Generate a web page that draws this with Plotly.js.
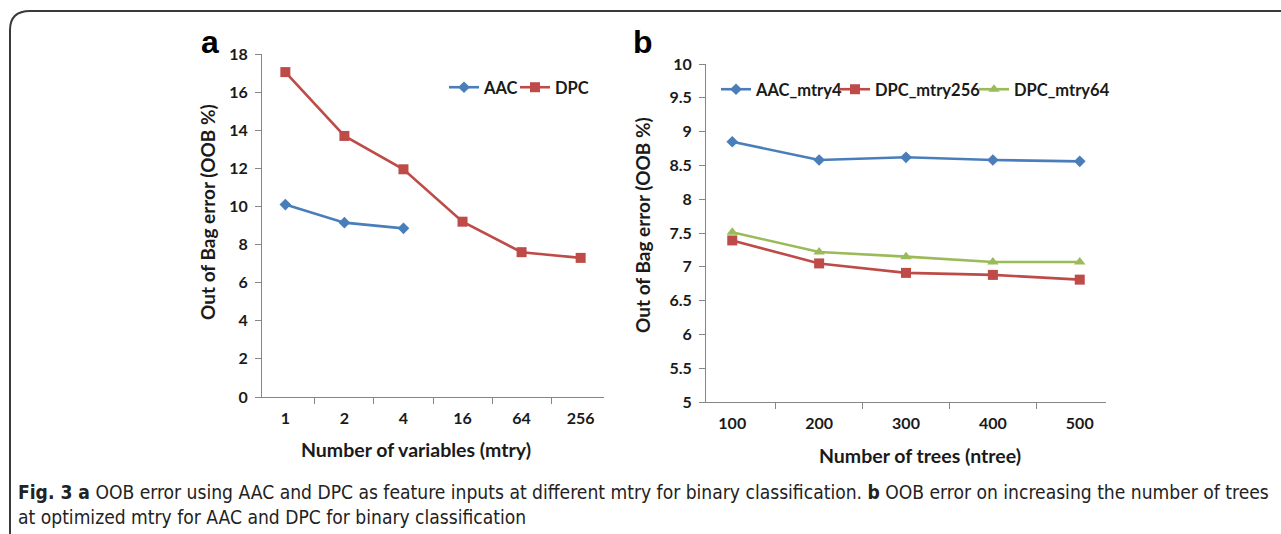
<!DOCTYPE html>
<html>
<head>
<meta charset="utf-8">
<script src="https://cdn.plot.ly/plotly-3.0.1.min.js"></script>
<style>
  html, body { margin: 0; padding: 0; background: #ffffff; }
  #chart { width: 1281px; height: 534px; }
</style>
</head>
<body>
<div id="chart"></div>
<script>
// ---- Panel a data ----
const mtryCats = ['1', '2', '4', '16', '64', '256'];
const aacMtryCats = ['1', '2', '4'];
const aacOOB = [10.1, 9.15, 8.85];
const dpcOOB = [17.05, 13.7, 11.95, 9.2, 7.6, 7.3];

// ---- Panel b data ----
const ntreeCats = ['100', '200', '300', '400', '500'];
const aacMtry4 = [8.85, 8.58, 8.62, 8.58, 8.56];
const dpcMtry256 = [7.39, 7.05, 6.91, 6.88, 6.81];
const dpcMtry64 = [7.51, 7.22, 7.15, 7.07, 7.07];

const W = 1281, H = 534;
const px = v => v / W;
const py = v => 1 - v / H;

const BLUE = '#4A7EBB', RED = '#BE4B48', GREEN = '#9BBB59';
const AXC = '#868686';
const FONT = 'Lato, "Open Sans", "DejaVu Sans", sans-serif';
const tickFont = { family: FONT, size: 16, color: '#1a1a1a', weight: 700 };
const titleFont = { family: FONT, size: 19.5, color: '#1a1a1a', weight: 700 };
const yTitleFont = { family: FONT, size: 19, color: '#1a1a1a', weight: 700 };
const legFont = { family: FONT, size: 16.5, color: '#1a1a1a', weight: 700 };
const CAPFONT = '"Liberation Sans Narrow", "DejaVu Sans Condensed", "Noto Sans", sans-serif';

function tr(x, y, name, xa, ya, leg, color, symbol, size) {
  return { x: x, y: y, name: name, type: 'scatter', mode: 'lines+markers',
    xaxis: xa, yaxis: ya, legend: leg,
    line: { color: color, width: 2.6 }, marker: { symbol: symbol, size: size, color: color } };
}

const traces = [
  tr(aacMtryCats, aacOOB, 'AAC', 'x', 'y', 'legend', BLUE, 'diamond', 9),
  tr(mtryCats, dpcOOB, 'DPC', 'x', 'y', 'legend2', RED, 'square', 10),
  tr(ntreeCats, aacMtry4, 'AAC_mtry4', 'x2', 'y2', 'legend3', BLUE, 'diamond', 9),
  tr(ntreeCats, dpcMtry256, 'DPC_mtry256', 'x2', 'y2', 'legend4', RED, 'square', 10),
  tr(ntreeCats, dpcMtry64, 'DPC_mtry64', 'x2', 'y2', 'legend5', GREEN, 'triangle-up', 10)
];

function xAxis(domain, anchor) {
  return {
    domain: domain, anchor: anchor, type: 'category',
    showline: true, linecolor: AXC, linewidth: 1, mirror: false,
    showgrid: false, zeroline: false,
    ticks: 'outside', ticklen: 6, tickcolor: AXC, tickson: 'boundaries',
    tickfont: tickFont, ticklabelstandoff: 7,
    fixedrange: true
  };
}
function yAxis(domain, range, dtick, anchor) {
  return {
    domain: domain, anchor: anchor, range: range, dtick: dtick,
    showline: true, linecolor: AXC, linewidth: 1,
    showgrid: false, zeroline: false,
    ticks: 'outside', ticklen: 6, tickcolor: AXC,
    tickfont: tickFont, ticklabelstandoff: 4,
    fixedrange: true
  };
}
function leg(textX, y) {
  return { x: px(textX - 39), y: py(y), xanchor: 'left', yanchor: 'top',
    orientation: 'h', bgcolor: 'rgba(0,0,0,0)', font: legFont, itemwidth: 30 };
}
function ann(text, x, y, font, extra) {
  return Object.assign({ text: text, x: px(x), y: py(y), xref: 'paper', yref: 'paper',
    xanchor: 'center', yanchor: 'middle', showarrow: false, font: font }, extra || {});
}

const layout = {
  width: W, height: H,
  margin: { l: 0, r: 0, t: 0, b: 0 },
  paper_bgcolor: '#ffffff', plot_bgcolor: '#ffffff',
  showlegend: true,
  xaxis: xAxis([px(262), px(604)], 'y'),
  yaxis: yAxis([py(397), py(54)], [0, 18], 2, 'x'),
  xaxis2: xAxis([px(706), px(1106)], 'y2'),
  yaxis2: yAxis([py(402), py(64)], [5, 10], 0.5, 'x2'),
  legend: leg(483, 70),
  legend2: leg(554, 70),
  legend3: leg(755, 72),
  legend4: leg(874, 72),
  legend5: leg(1013, 72),
  annotations: [
    ann('Number of variables (mtry)', 416, 449, titleFont),
    ann('Out of Bag error (OOB %)', 207, 212, yTitleFont, { textangle: -90 }),
    ann('Number of trees (ntree)', 920, 455, titleFont),
    ann('Out of Bag error (OOB %)', 642, 225, yTitleFont, { textangle: -90 }),
    ann('<b>a</b>', 210, 42, { family: 'Liberation Sans, Arial, sans-serif', size: 32, color: '#000' }),
    ann('<b>b</b>', 643, 42, { family: 'Liberation Sans, Arial, sans-serif', size: 32, color: '#000' }),
    ann('<b>Fig. 3 a</b> OOB error using AAC and DPC as feature inputs at different mtry for binary classification. <b>b</b> OOB error on increasing the number of trees',
      16, 492, { family: CAPFONT, size: 19.1, color: '#222' }, { xanchor: 'left', align: 'left' }),
    ann('at optimized mtry for AAC and DPC for binary classification',
      16, 517, { family: CAPFONT, size: 19.1, color: '#222' }, { xanchor: 'left', align: 'left' })
  ],
  shapes: [
    { type: 'path', xref: 'paper', yref: 'paper',
      path: `M ${px(10)},${py(534)} L ${px(10)},${py(30)} Q ${px(10)},${py(11)} ${px(30)},${py(11)} L ${px(1290)},${py(11)}`,
      line: { color: '#3a3a3a', width: 2 } }
  ]
};

Plotly.newPlot('chart', traces, layout, { displayModeBar: false, staticPlot: true });
</script>
</body>
</html>
